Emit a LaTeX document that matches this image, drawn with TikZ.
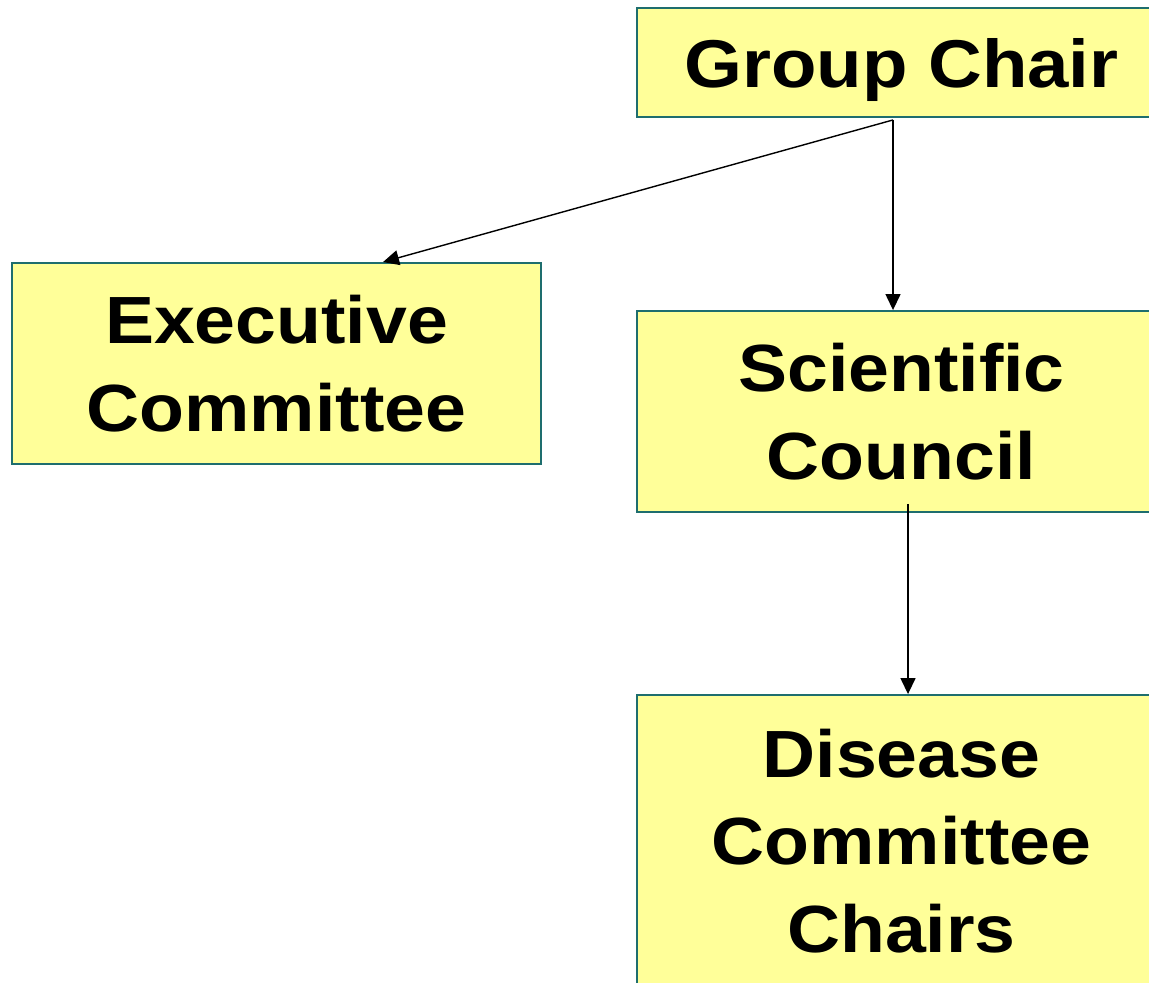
\documentclass[tikz,border=0pt]{standalone}
\usepackage{fontspec}
\usetikzlibrary{arrows.meta,calc}
\newfontfamily\boxfont[FakeStretch=1.1]{Liberation Sans}
\definecolor{boxfill}{HTML}{FFFF99}
\definecolor{boxline}{HTML}{1E6E6E}
\tikzset{
  unit/.style={draw=boxline,fill=boxfill,line width=1.1pt,minimum width=10.58cm,
    align=center,inner sep=0pt,font=\boxfont\bfseries\fontsize{38}{50}\selectfont},
  link/.style={line width=0.8pt,-{Triangle[length=0.32cm,width=0.3cm]}}
}
\begin{document}
\begin{tikzpicture}[x=0.02cm,y=-0.02cm]
\useasboundingbox (0,0) rectangle (1149,983);
\clip (0,0) rectangle (1149,983);
\node[unit,minimum height=2.18cm,text depth=0pt,font=\boxfont\bfseries\fontsize{38.5}{50}\selectfont] (gc) at (901.5,62.5) {Group Chair};
\node[unit,minimum height=4.02cm] (ec) at (276.5,363.5) {Executive\\Committee};
\node[unit,minimum height=4.02cm] (sc) at (901.5,411.5) {Scientific\\Council};
\node[unit,minimum height=5.84cm] (dcc) at (901.5,841) {Disease\\Committee\\Chairs};
% connector ends, a little off the anchors
\coordinate (gcfoot) at ($(gc.south)+(-8.5,2)$);
\coordinate (ectop) at ($(ec.north)+(106.5,0)$);
\coordinate (sctop) at (gcfoot |- sc.north);
\coordinate (scfoot) at ($(sc.south)+(6.5,-9)$);
\coordinate (dcctop) at (scfoot |- dcc.north);
\foreach \from/\to in {gcfoot/ectop,gcfoot/sctop,scfoot/dcctop}
\draw[link] (\from) -- (\to);
\end{tikzpicture}
\end{document}
